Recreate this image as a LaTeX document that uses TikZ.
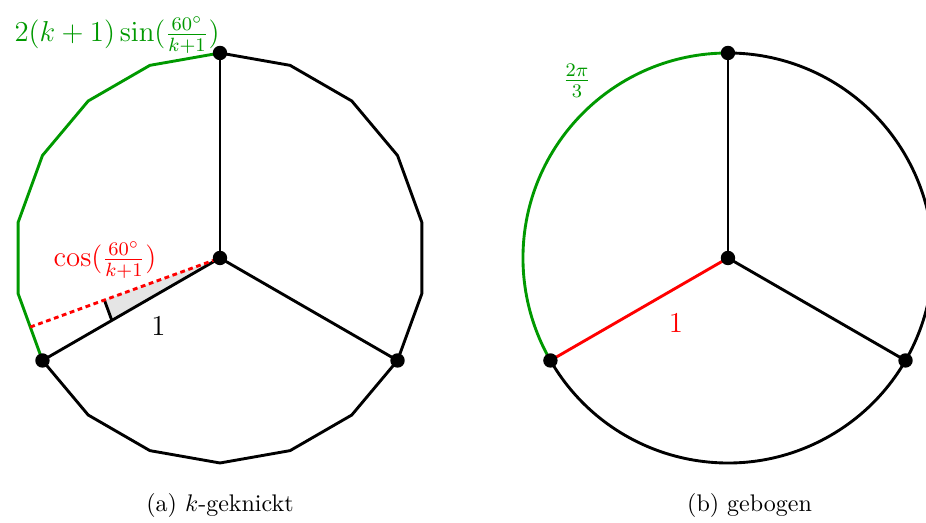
\documentclass[tikz,border=0pt]{standalone}
\usetikzlibrary{calc}
\definecolor{mygreen}{rgb}{0,0.6,0}
\begin{document}
\begin{tikzpicture}[
  edge/.style={line width=1.2pt, line join=round},
  dot/.style={circle, fill=black, inner sep=0pt, minimum size=6pt},
  lbl/.style={font=\large}]
\useasboundingbox (-3.2195,-3.878) rectangle (10.332,3.7756);
\clip (-3.2195,-3.878) rectangle (10.332,3.7756);
% ---------- left: k-geknickt ----------
\coordinate (c1) at (0,0);
\foreach \i in {0,...,17} \coordinate (p\i) at ({90+20*\i}:3);
\coordinate (m) at (200:{3*cos(10)});
\coordinate (ra) at (200:1.8);
\coordinate (rb) at (210:{1.8/cos(10)});
\fill[gray!20] (c1) -- (ra) -- (rb) -- cycle;
\draw[edge] (ra) -- (rb);
\draw[edge, mygreen] (p0) -- (p1) -- (p2) -- (p3) -- (p4) -- (p5) -- (p6);
\draw[edge] (p6) -- (p7) -- (p8) -- (p9) -- (p10) -- (p11) -- (p12) -- (p13) -- (p14) -- (p15) -- (p16) -- (p17) -- (p0);
\draw[edge] (c1) -- (p0);
\draw[edge] (c1) -- (p6);
\draw[edge] (c1) -- (p12);
\draw[edge, red, dash pattern=on 2pt off 1.5pt] (m) -- (c1);
\node[dot] (d1) at (c1) {};
\node[dot] (d2) at (p0) {};
\node[dot] (d3) at (p6) {};
\node[dot] (d4) at (p12) {};
\node[lbl, text=mygreen] (t1) at (-1.507,3.263) {$2(k+1)\sin(\frac{60^\circ}{k+1})$};
\node[lbl, text=red] (t2) at (-1.683,-0.029) {$\cos(\frac{60^\circ}{k+1})$};
\node[lbl] (t3) at (-0.9,-1.002) {$1$};
\node (cap1) at (0,-3.629) {(a) $k$-geknickt};
% ---------- right: gebogen ----------
\coordinate (c2) at (7.434,0);
\coordinate (q0) at ($(c2)+(90:3)$);
\coordinate (q1) at ($(c2)+(210:3)$);
\coordinate (q2) at ($(c2)+(330:3)$);
\draw[edge] (q1) arc (210:450:3);
\draw[edge, mygreen] (q0) arc (90:210:3);
\draw[edge] (c2) -- (q0);
\draw[edge] (c2) -- (q2);
\draw[edge, red] (c2) -- (q1);
\node[dot] (e1) at (c2) {};
\node[dot] (e2) at (q0) {};
\node[dot] (e3) at (q1) {};
\node[dot] (e4) at (q2) {};
\node[lbl, text=mygreen] (u1) at ($(c2)+(-2.21,2.59)$) {$\frac{2\pi}{3}$};
\node[lbl, text=red] (u2) at ($(c2)+(-0.761,-0.951)$) {$1$};
\node (cap2) at (7.75,-3.629) {(b) gebogen};
\end{tikzpicture}
\end{document}
